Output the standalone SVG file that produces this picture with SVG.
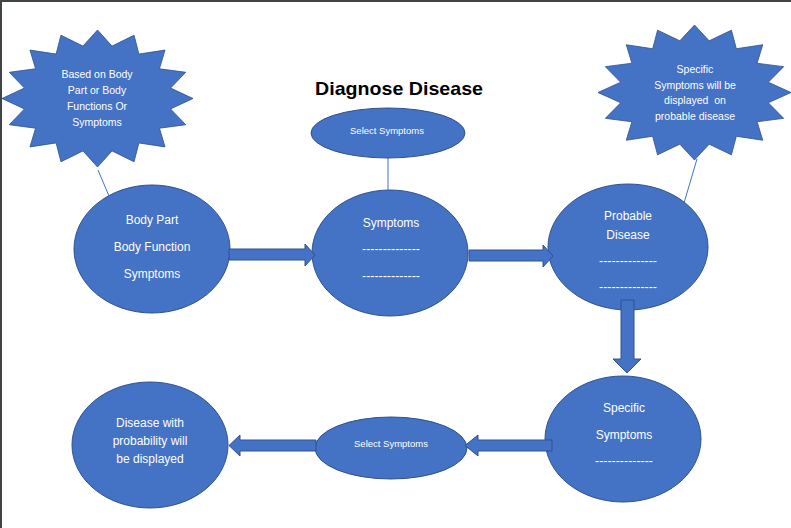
<svg xmlns="http://www.w3.org/2000/svg" xmlns:xlink="http://www.w3.org/1999/xlink" width="791" height="528" viewBox="0 0 791 528">
<style>
.shape{fill:#4472C4;stroke:#2F528F;stroke-width:1}
.star{fill:#4472C4;stroke:#2F528F;stroke-width:1;vector-effect:non-scaling-stroke}
.t{font-family:"Liberation Sans",Arial,sans-serif;fill:#ffffff;text-anchor:middle}
.big{font-size:12px}
.small{font-size:10.5px}
.tiny{font-size:9.5px}
.title{font-family:"Liberation Sans",Arial,sans-serif;font-weight:bold;font-size:19px;fill:#000000;text-anchor:middle}
.line{stroke:#4472C4;stroke-width:1;fill:none}
.arrow{fill:#4472C4;stroke:#2F528F;stroke-width:1}
</style>
<defs>
<polygon id="star16" points="0,-100 15.22,-76.5 38.27,-92.39 43.34,-64.86 70.71,-70.71 64.86,-43.34 92.39,-38.27 76.5,-15.22 100,0 76.5,15.22 92.39,38.27 64.86,43.34 70.71,70.71 43.34,64.86 38.27,92.39 15.22,76.5 0,100 -15.22,76.5 -38.27,92.39 -43.34,64.86 -70.71,70.71 -64.86,43.34 -92.39,38.27 -76.5,15.22 -100,0 -76.5,-15.22 -92.39,-38.27 -64.86,-43.34 -70.71,-70.71 -43.34,-64.86 -38.27,-92.39 -15.22,-76.5"/>
</defs>
<rect x="0" y="0" width="791" height="528" fill="#ffffff"/>
<rect x="0" y="0" width="791" height="2" fill="#404447"/>
<rect x="0" y="0" width="2" height="528" fill="#404447"/>

<g id="title">
<text class="title" x="399" y="95" textLength="168" lengthAdjust="spacingAndGlyphs">Diagnose Disease</text>
</g>

<g id="connectors">
<line class="line" x1="98" y1="170" x2="109" y2="196"/>
<line class="line" x1="388" y1="158" x2="388" y2="190"/>
<line class="line" x1="697" y1="159" x2="684" y2="203"/>
</g>

<g id="star-based">
<use xlink:href="#star16" href="#star16" class="star" transform="translate(97.5,98.5) scale(0.955,0.685)"/>
<text class="t small" x="97" y="78">Based on Body</text>
<text class="t small" x="97" y="94">Part or Body</text>
<text class="t small" x="97" y="110">Functions Or</text>
<text class="t small" x="97" y="126">Symptoms</text>
</g>

<g id="star-specific">
<use xlink:href="#star16" href="#star16" class="star" transform="translate(694.5,92.5) scale(0.965,0.675)"/>
<text class="t small" x="695" y="73">Specific</text>
<text class="t small" x="695" y="89">Symptoms will be</text>
<text class="t small" x="695" y="104" xml:space="preserve">displayed  on</text>
<text class="t small" x="695" y="120">probable disease</text>
</g>

<g id="select-top">
<ellipse class="shape" cx="388" cy="133" rx="77" ry="25"/>
<text class="t tiny" x="387" y="134">Select Symptoms</text>
</g>

<g id="body-part">
<ellipse class="shape" cx="152" cy="249" rx="78" ry="64"/>
<text class="t big" x="152" y="224">Body Part</text>
<text class="t big" x="152" y="251">Body Function</text>
<text class="t big" x="152" y="278">Symptoms</text>
</g>

<g id="symptoms">
<ellipse class="shape" cx="390" cy="253" rx="78" ry="63"/>
<text class="t big" x="391" y="227">Symptoms</text>
<text class="t big" x="391" y="253" textLength="58" lengthAdjust="spacingAndGlyphs">--------------</text>
<text class="t big" x="391" y="280" textLength="58" lengthAdjust="spacingAndGlyphs">--------------</text>
</g>

<g id="probable-disease">
<ellipse class="shape" cx="628" cy="247" rx="80" ry="63"/>
<text class="t big" x="628" y="220">Probable</text>
<text class="t big" x="628" y="239">Disease</text>
<text class="t big" x="628" y="265" textLength="58" lengthAdjust="spacingAndGlyphs">--------------</text>
<text class="t big" x="628" y="291" textLength="58" lengthAdjust="spacingAndGlyphs">--------------</text>
</g>

<g id="specific-symptoms">
<ellipse class="shape" cx="623" cy="439" rx="78" ry="63"/>
<text class="t big" x="624" y="412">Specific</text>
<text class="t big" x="624" y="439">Symptoms</text>
<text class="t big" x="624" y="465" textLength="58" lengthAdjust="spacingAndGlyphs">--------------</text>
</g>

<g id="select-bottom">
<ellipse class="shape" cx="391" cy="448" rx="76" ry="31"/>
<text class="t tiny" x="391" y="447">Select Symptoms</text>
</g>

<g id="disease-probability">
<ellipse class="shape" cx="150" cy="445" rx="78" ry="63"/>
<text class="t big" x="150" y="427">Disease with</text>
<text class="t big" x="150" y="445">probability will</text>
<text class="t big" x="150" y="463">be displayed</text>
</g>

<g id="block-arrows">
<path class="arrow" d="M229,249 H305 V244 L315,255 L305,266 V260 H229 Z"/>
<path class="arrow" d="M469,250 H543 V245 L553,256 L543,267 V261 H469 Z"/>
<path class="arrow" d="M621,300 H634 V359 H641 L627,373 L613,359 H621 Z"/>
<path class="arrow" d="M552,440 V451 H478 V456 L465,445.5 L478,435 V440 Z"/>
<path class="arrow" d="M316,440 V451 H240 V456 L229,445.5 L240,435 V440 Z"/>
</g>
</svg>
